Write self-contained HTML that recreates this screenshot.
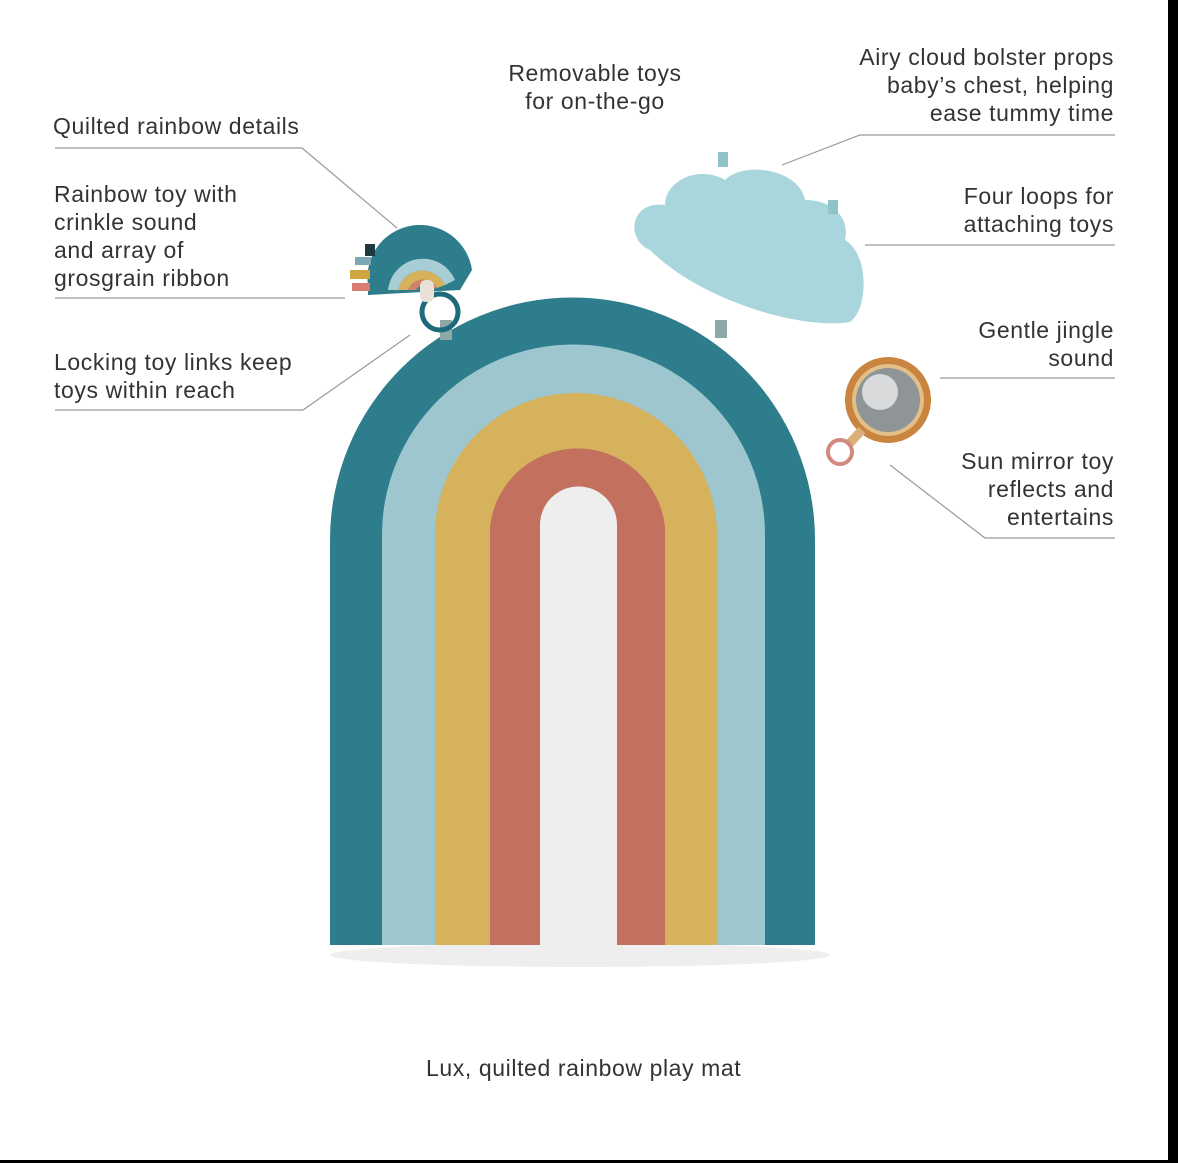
<!DOCTYPE html>
<html><head><style>
body{margin:0;width:1178px;height:1163px;background:#000;overflow:hidden;font-family:"Liberation Sans",sans-serif}
#p{position:absolute;left:0;top:0;width:1168px;height:1160px;background:#fff}
.t{position:absolute;font-size:23px;letter-spacing:0.6px;line-height:28px;color:#333;white-space:nowrap}
.r{text-align:right}
</style></head><body><div id="p">
<svg width="1168" height="1160" style="position:absolute;left:0;top:0">
<g stroke="#999" stroke-width="1.2" fill="none">
<polyline points="55,148 302,148 397,228"/>
<line x1="55" y1="298" x2="345" y2="298"/>
<polyline points="55,410 303,410 410,335"/>
<polyline points="1115,135 860,135 782,165"/>
<line x1="865" y1="245" x2="1115" y2="245"/>
<line x1="940" y1="378" x2="1115" y2="378"/>
<polyline points="1115,538 985,538 890,465"/>
</g>
<ellipse cx="580" cy="955" rx="250" ry="12" fill="#eee"/>
<path d="M330,945 V540 A242,242 0 0 1 815,540 V945 Z" fill="#2d7d8c"/>
<path d="M382,945 V535 A191,190 0 0 1 765,535 V945 Z" fill="#9ec6cf"/>
<path d="M435,945 V535 A141,142 0 0 1 717,535 V945 Z" fill="#d6b25c"/>
<path d="M490,945 V527 A88,88 0 0 1 665,527 V945 Z" fill="#c3705e"/>
<path d="M540,945 V525 A38,38 0 0 1 617,525 V945 Z" fill="#eeeeee"/>
<rect x="440" y="320" width="12" height="20" fill="#8ea8a8"/>
<rect x="715" y="320" width="12" height="18" fill="#8ea8a8"/>
<circle cx="440" cy="312" r="18" fill="none" stroke="#1e6a7a" stroke-width="5"/>
<path d="M368,295 V285 A52,52 0 0 1 472,270 L460,290 Z" fill="#2d7d8c"/>
<path d="M388,290 A35,35 0 0 1 455,280 L445,285 A25,25 0 0 0 398,290Z" fill="#a9cdd4"/>
<path d="M398,290 A25,25 0 0 1 445,285 L437,288 A16,16 0 0 0 408,290Z" fill="#d6b25c"/>
<path d="M408,290 A16,16 0 0 1 437,288 L430,290 A8,8 0 0 0 416,290Z" fill="#d0826a"/>
<rect x="420" y="280" width="14" height="22" rx="6" fill="#e9e0d8"/>
<rect x="352" y="283" width="18" height="8" fill="#d97d70"/>
<rect x="350" y="270" width="20" height="9" fill="#cfa540"/>
<rect x="355" y="257" width="16" height="8" fill="#7aa9b3"/>
<rect x="365" y="244" width="10" height="12" fill="#1d3a40"/>
<path d="M650,250 C625,240 630,200 665,205 C665,180 700,165 725,180 C745,160 800,170 805,200 C835,200 850,220 845,240 C870,255 868,310 850,322 C800,330 700,300 650,250Z" fill="#a8d6dc"/>
<rect x="718" y="152" width="10" height="15" fill="#8fc3c8"/>
<rect x="828" y="200" width="10" height="14" fill="#8fc3c8"/>
<circle cx="888" cy="400" r="43" fill="#c9843f"/>
<circle cx="888" cy="400" r="36" fill="#e3c08a"/>
<circle cx="888" cy="400" r="32" fill="#8f9497"/>
<circle cx="880" cy="392" r="18" fill="#d8dadb"/>
<line x1="862" y1="430" x2="848" y2="445" stroke="#d9b07b" stroke-width="9"/>
<circle cx="840" cy="452" r="12" fill="none" stroke="#d08a80" stroke-width="4"/>
</svg>
<div class="t" style="left:53px;top:112px">Quilted rainbow details</div>
<div class="t" style="left:54px;top:180px">Rainbow toy with<br>crinkle sound<br>and array of<br>grosgrain ribbon</div>
<div class="t" style="left:54px;top:348px">Locking toy links keep<br>toys within reach</div>
<div class="t" style="left:470px;top:59px;text-align:center;width:250px">Removable toys<br>for on-the-go</div>
<div class="t r" style="right:54px;top:43px">Airy cloud bolster props<br>baby’s chest, helping<br>ease tummy time</div>
<div class="t r" style="right:54px;top:182px">Four loops for<br>attaching toys</div>
<div class="t r" style="right:54px;top:316px">Gentle jingle<br>sound</div>
<div class="t r" style="right:54px;top:447px">Sun mirror toy<br>reflects and<br>entertains</div>
<div class="t" style="left:426px;top:1054px">Lux, quilted rainbow play mat</div>
</div></body></html>
